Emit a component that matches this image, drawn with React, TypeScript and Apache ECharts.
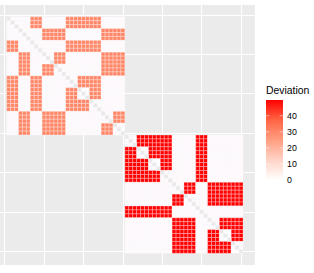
import React, { useEffect, useRef } from "react";
import * as echarts from "echarts";

// Group-level pattern (10 × 10 blocks of 3 cells). 2 = deviating, 0 = baseline, 1 = zero (own block)
const upperBlocks = [
  [0, 0, 2, 0, 0, 2, 2, 2, 0, 0],
  [0, 0, 0, 2, 2, 0, 0, 0, 2, 2],
  [2, 0, 0, 0, 0, 2, 2, 2, 0, 0],
  [0, 2, 0, 0, 2, 0, 0, 0, 2, 2],
  [0, 2, 0, 2, 0, 0, 0, 0, 2, 2],
  [2, 0, 2, 0, 0, 0, 2, 2, 0, 0],
  [2, 0, 2, 0, 0, 2, 1, 2, 0, 0],
  [2, 0, 2, 0, 0, 2, 2, 0, 0, 0],
  [0, 2, 0, 2, 2, 0, 0, 0, 0, 2],
  [0, 2, 0, 2, 2, 0, 0, 0, 2, 0],
];
const lowerBlocks = [
  [0, 2, 2, 2, 0, 0, 2, 0, 0, 0],
  [2, 1, 2, 2, 0, 0, 2, 0, 0, 0],
  [2, 2, 1, 2, 0, 0, 2, 0, 0, 0],
  [2, 2, 2, 0, 0, 0, 2, 0, 0, 0],
  [0, 0, 0, 0, 0, 2, 0, 2, 2, 2],
  [0, 0, 0, 0, 2, 0, 0, 2, 2, 2],
  [2, 2, 2, 2, 0, 0, 0, 0, 0, 0],
  [0, 0, 0, 0, 2, 2, 0, 0, 2, 2],
  [0, 0, 0, 0, 2, 2, 0, 2, 1, 2],
  [0, 0, 0, 0, 2, 2, 0, 2, 2, 0],
];
const upperValue = 30;
const lowerValue = 49.8;
const baselineValue = 0.6;
const zeroValue = 0;
const axisPositions = Array.from({ length: 66 }, (_, i) => String(i - 2));
const gridTicks = ["0", "10", "20", "30", "40", "50", "60"];
const legendTicks = [0, 10, 20, 30, 40];
const legendTitle = "Deviation";
const colorStops = ["#FDFBFF", "#FFD3C6", "#FF9E81", "#FF6544", "#FF0000"];

function buildCells(blocks: number[][], high: number, offset: number) {
  const cells: number[][] = [];
  const diagonal: number[][] = [];
  for (let r = 0; r < 30; r++) {
    for (let c = 0; c < 30; c++) {
      const x = String(offset + c + 1);
      const y = String(offset + r + 1);
      if (r === c) {
        diagonal.push([axisPositions.indexOf(x), axisPositions.indexOf(y), 0]);
        continue;
      }
      const kind = blocks[Math.floor(r / 3)][Math.floor(c / 3)];
      const v = kind === 2 ? high : kind === 1 ? zeroValue : baselineValue;
      cells.push([axisPositions.indexOf(x), axisPositions.indexOf(y), v]);
    }
  }
  return { cells, diagonal };
}

const renderTile = (_: any, api: any) => {
  const [cx, cy] = api.coord([api.value(0), api.value(1)]);
  const [w, h] = api.size([1, 1]);
  return {
    type: "rect",
    shape: { x: cx - w / 2, y: cy - h / 2, width: w, height: h },
    style: { fill: api.visual("color"), stroke: "#ffffff", lineWidth: 0.3 },
  };
};

export default function App() {
  const ref = useRef<HTMLDivElement>(null);
  useEffect(() => {
    document.body.style.margin = "0";
    const chart = echarts.init(ref.current!, null, { renderer: "svg" });
    const a = buildCells(upperBlocks, upperValue, 0);
    const b = buildCells(lowerBlocks, lowerValue, 30);
    const axis = {
      type: "category" as const,
      data: axisPositions,
      axisLine: { show: false },
      axisTick: { show: false },
      axisLabel: { show: false },
      splitLine: {
        show: true,
        alignWithLabel: true,
        interval: (_: number, v: string) => gridTicks.includes(v),
        lineStyle: { color: "#ffffff", width: 1 },
      },
    };
    const barLeft = 266;
    const barTop = 100;
    const barH = 80;
    const barW = 17;
    const yOf = (v: number) => barTop + barH - (v / lowerValue) * barH;
    chart.setOption({
      animation: false,
      backgroundColor: "#ffffff",
      grid: {
        show: true,
        outerBoundsMode: "none",
        backgroundColor: "#EBEBEB",
        borderWidth: 0,
        left: -5.15,
        top: 4.9,
        width: 260,
        height: 260.2,
      },
      xAxis: axis,
      yAxis: { ...axis, inverse: true },
      visualMap: [
        {
          show: false,
          seriesIndex: 0,
          dimension: 2,
          min: 0,
          max: lowerValue,
          inRange: { color: colorStops },
        },
        {
          show: false,
          seriesIndex: 1,
          dimension: 2,
          min: 0,
          max: 1,
          inRange: { color: ["#E9E9E9", "#E9E9E9"] },
        },
      ],
      series: [
        {
          type: "custom",
          renderItem: renderTile,
          data: [...a.cells, ...b.cells],
          encode: { x: 0, y: 1 },
          silent: true,
          progressive: 0,
        },
        {
          type: "custom",
          renderItem: renderTile,
          data: [...a.diagonal, ...b.diagonal],
          encode: { x: 0, y: 1 },
          silent: true,
          progressive: 0,
        },
      ],
      graphic: [
        {
          type: "text",
          x: barLeft,
          y: 85.5,
          style: {
            text: legendTitle,
            fontFamily: "Liberation Sans",
            fontSize: 10.4,
            fill: "#000000",
          },
        },
        {
          type: "rect",
          shape: { x: barLeft, y: barTop, width: barW, height: barH },
          style: {
            fill: new echarts.graphic.LinearGradient(
              0,
              1,
              0,
              0,
              colorStops.map((color, i) => ({
                offset: i / (colorStops.length - 1),
                color: i === 0 ? "#FFFFFF" : color,
              }))
            ),
          },
        },
        ...legendTicks.flatMap((v) => [
          {
            type: "line",
            shape: { x1: barLeft, y1: yOf(v), x2: barLeft + 3.4, y2: yOf(v) },
            style: { stroke: "#ffffff", lineWidth: 0.5 },
          },
          {
            type: "line",
            shape: { x1: barLeft + barW - 3.4, y1: yOf(v), x2: barLeft + barW, y2: yOf(v) },
            style: { stroke: "#ffffff", lineWidth: 0.5 },
          },
          {
            type: "text",
            x: 287,
            y: yOf(v),
            style: {
              text: String(v),
              fontFamily: "Liberation Sans",
              fontSize: 8.8,
              fill: "#000000",
              verticalAlign: "middle",
            },
          },
        ]),
      ],
    });
    return () => chart.dispose();
  }, []);
  return <div ref={ref} style={{ width: 314, height: 273 }} />;
}
